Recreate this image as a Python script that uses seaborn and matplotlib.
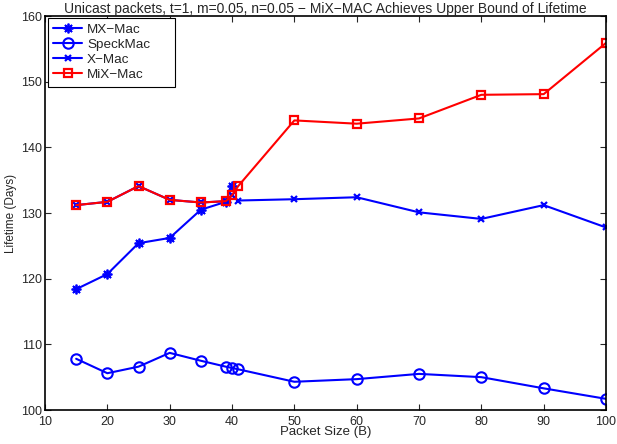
import matplotlib
matplotlib.use("Agg")
import matplotlib.pyplot as plt
import seaborn as sns
import pandas as pd

# Data
mx_x = [15, 20, 25, 30, 35, 39, 40]
mx_y = [118.4, 120.7, 125.4, 126.2, 130.5, 131.7, 134.1]

speck_x = [15, 20, 25, 30, 35, 39, 40, 41, 50, 60, 70, 80, 90, 100]
speck_y = [107.8, 105.6, 106.6, 108.7, 107.5, 106.6, 106.4, 106.2, 104.3, 104.7, 105.5, 105.0, 103.3, 101.7]

xmac_x = [15, 20, 25, 30, 35, 39, 40, 41, 50, 60, 70, 80, 90, 100]
xmac_y = [131.2, 131.7, 134.1, 132.0, 131.6, 131.8, 132.7, 131.9, 132.1, 132.4, 130.1, 129.1, 131.2, 127.8]

mix_x = [15, 20, 25, 30, 35, 39, 40, 41, 50, 60, 70, 80, 90, 100]
mix_y = [131.2, 131.7, 134.1, 132.0, 131.6, 131.8, 132.7, 134.1, 144.1, 143.6, 144.4, 148.0, 148.1, 155.9]

x_ticks = [10, 20, 30, 40, 50, 60, 70, 80, 90, 100]
y_ticks = [100, 110, 120, 130, 140, 150, 160]

sns.set_style("ticks")
plt.rcParams['font.family'] = ['Liberation Sans', 'DejaVu Sans']

fig = plt.figure(figsize=(6.17, 4.44), dpi=100)
ax = fig.add_axes([45/617, 1 - 410/444, (606-45)/617, (410-16)/444])

blue = "#0000ff"
red = "#ff0000"
series = [
    ("MX\u2212Mac", mx_x, mx_y, dict(color=blue, marker=(8, 2, 0), markersize=7,
                                     markeredgecolor=blue, markeredgewidth=1.3)),
    ("SpeckMac", speck_x, speck_y, dict(color=blue, marker="o", markersize=7.5, markerfacecolor="none",
                                       markeredgecolor=blue, markeredgewidth=1.5)),
    ("X\u2212Mac", xmac_x, xmac_y, dict(color=blue, marker="x", markersize=5,
                                      markeredgecolor=blue, markeredgewidth=1.6)),
    ("MiX\u2212Mac", mix_x, mix_y, dict(color=red, marker="s", markersize=6, markerfacecolor="none",
                                        markeredgecolor=red, markeredgewidth=1.6)),
]

for name, xs, ys, kw in series:
    df = pd.DataFrame({"x": xs, "y": ys})
    sns.lineplot(data=df, x="x", y="y", ax=ax, label=name, linewidth=1.5, **kw)

ax.set_xlim(10, 100)
ax.set_ylim(100, 160)
ax.set_xticks(x_ticks)
ax.set_yticks(y_ticks)
ax.tick_params(direction="in", top=True, right=True, labelsize=9, length=4, width=0.8)
ax.tick_params(axis="x", pad=4)
ax.tick_params(axis="y", pad=2)
for s in ax.spines.values():
    s.set_linewidth(1.2)
    s.set_color("black")
    s.set_visible(True)

ax.set_xlabel("Packet Size (B)", fontsize=9.5, labelpad=-1)
ax.set_ylabel("Lifetime (Days)", fontsize=8.5, labelpad=3)
ax.set_title("Unicast packets, t=1, m=0.05, n=0.05 \u2212 MiX\u2212MAC Achieves Upper Bound of Lifetime",
             fontsize=10, pad=2)

leg = ax.legend(loc="upper left", bbox_to_anchor=(3/561, 392/394, 127/561, 0), mode="expand",
                fontsize=9.7, frameon=True, fancybox=False,
                edgecolor="black", framealpha=1, borderaxespad=0,
                handlelength=2.1, labelspacing=0.2, borderpad=0.4, handletextpad=0.4)
leg.get_frame().set_linewidth(0.8)

fig.savefig("out.png", dpi=100)
